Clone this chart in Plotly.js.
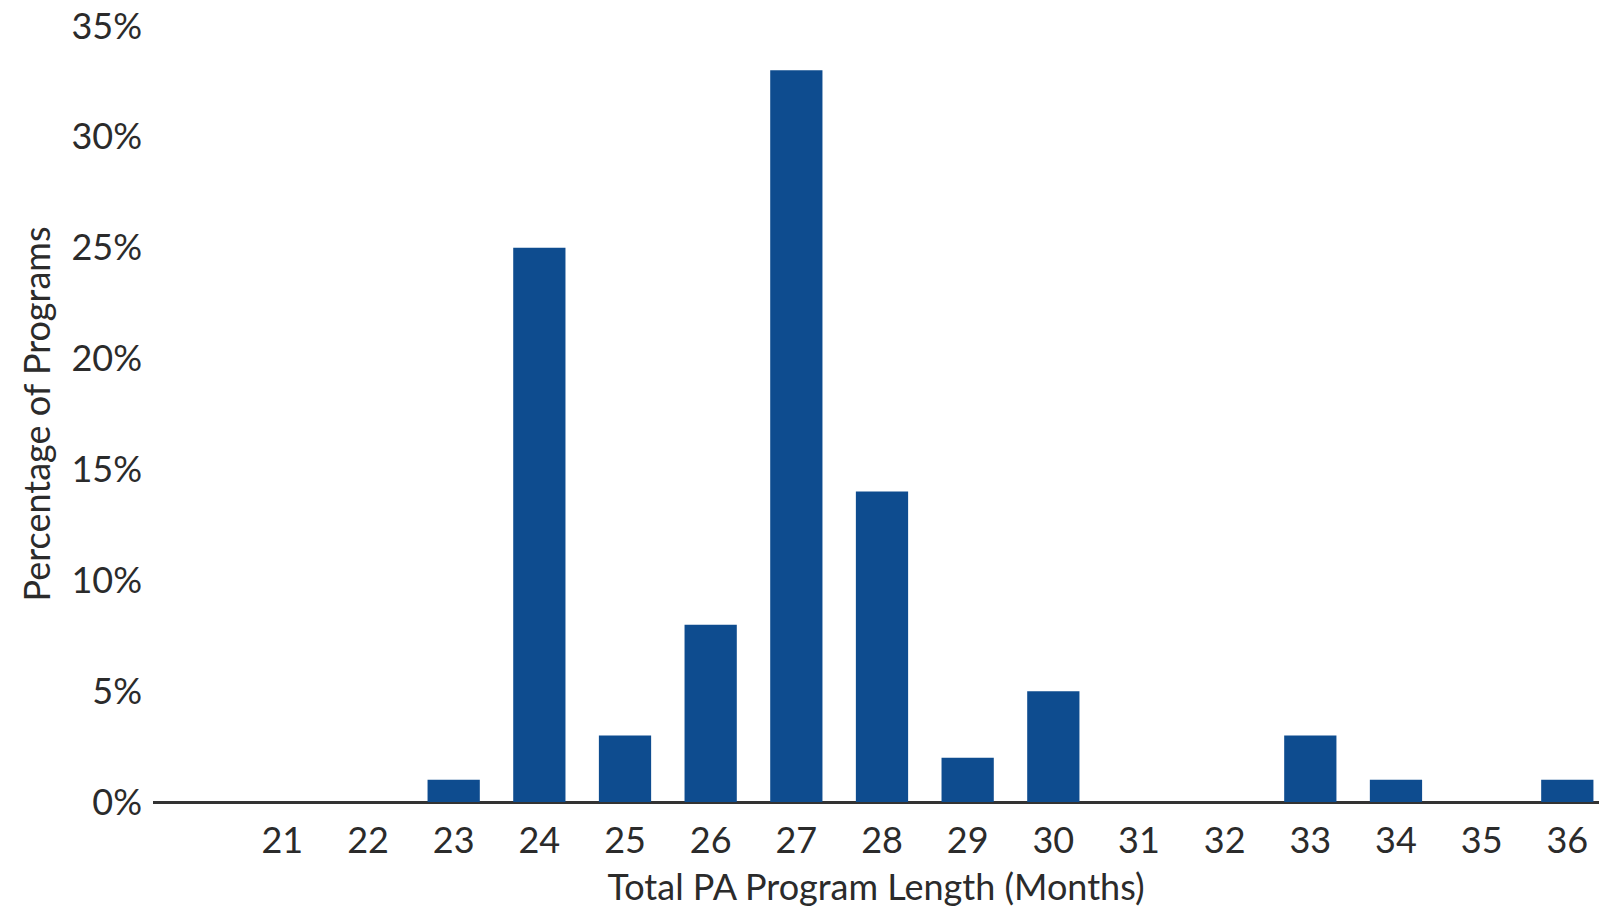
<!DOCTYPE html>
<html>
<head>
<meta charset="utf-8">
<script src="https://cdn.plot.ly/plotly-3.0.1.min.js"></script>
<style>html,body{margin:0;padding:0;background:#fff;}#chart{width:1599px;height:911px;}</style>
</head>
<body>
<div id="chart"></div>
<script>
const months = [21, 22, 23, 24, 25, 26, 27, 28, 29, 30, 31, 32, 33, 34, 35, 36];
const percentPrograms = [0, 0, 1, 25, 3, 8, 33, 14, 2, 5, 0, 0, 3, 1, 0, 1];
const yTickValues = [0, 5, 10, 15, 20, 25, 30, 35];
const yTickLabels = ['0%', '5%', '10%', '15%', '20%', '25%', '30%', '35%'];
const xTitle = 'Total PA Program Length (Months)';
const yTitle = 'Percentage of Programs';

const font = {family: 'Lato, "Open Sans", sans-serif', size: 36, color: '#2b2b2b'};

Plotly.newPlot('chart', [{
  type: 'bar',
  x: months,
  y: percentPrograms,
  marker: {color: '#0E4C8F', line: {width: 0}},
  width: 0.61,
  hoverinfo: 'x+y'
}], {
  width: 1599,
  height: 911,
  margin: {l: 153, r: 0, t: 26, b: 109, pad: 0},
  paper_bgcolor: '#ffffff',
  plot_bgcolor: '#ffffff',
  font: font,
  showlegend: false,
  xaxis: {
    range: [19.49, 36.37],
    tickmode: 'array',
    tickvals: months,
    ticktext: months.map(String),
    showgrid: false,
    zeroline: false,
    showline: false,
    ticks: '',
    ticklabelstandoff: 14,
    tickfont: font,
    title: {text: xTitle, font: font, standoff: 14}
  },
  yaxis: {
    range: [0, 35],
    tickmode: 'array',
    tickvals: yTickValues,
    ticktext: yTickLabels,
    showgrid: false,
    zeroline: true,
    zerolinecolor: '#333333',
    zerolinewidth: 3,
    showline: false,
    ticks: '',
    ticklabelstandoff: 10,
    tickfont: font,
    title: {text: yTitle, font: font, standoff: 9}
  }
}, {displayModeBar: false, staticPlot: true});
</script>
</body>
</html>
